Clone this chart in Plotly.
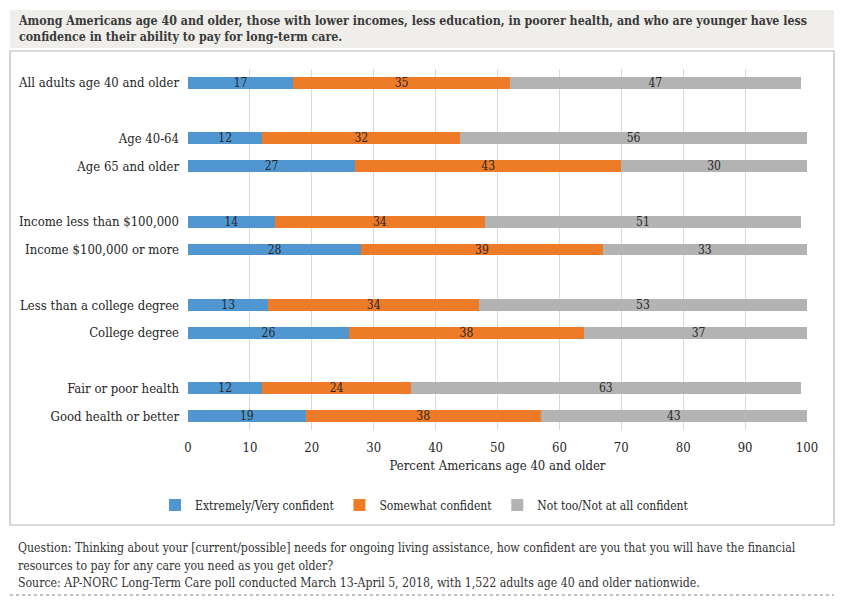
import plotly.graph_objects as go

categories = [
    "All adults age 40 and older", " ",
    "Age 40-64", "Age 65 and older", "  ",
    "Income less than $100,000", "Income $100,000 or more", "   ",
    "Less than a college degree", "College degree", "    ",
    "Fair or poor health", "Good health or better",
]
extremely = [17, None, 12, 27, None, 14, 28, None, 13, 26, None, 12, 19]
somewhat = [35, None, 32, 43, None, 34, 39, None, 34, 38, None, 24, 38]
not_conf = [47, None, 56, 30, None, 51, 33, None, 53, 37, None, 63, 43]
series_names = ["Extremely/Very confident", "Somewhat confident", "Not too/Not at all confident"]
colors = ["#5097d2", "#ee7b27", "#b3b3b3"]
x_ticks = [0, 10, 20, 30, 40, 50, 60, 70, 80, 90, 100]

title_text = ("Among Americans age 40 and older, those with lower incomes, less education, in poorer health, "
              "and who are younger have less<br>confidence in their ability to pay for long-term care.")
footer_lines = [
    "Question: Thinking about your [current/possible] needs for ongoing living assistance, how confident are you that you will have the financial",
    "resources to pay for any care you need as you get older?",
    "Source: AP-NORC Long-Term Care poll conducted March 13-April 5, 2018, with 1,522 adults age 40 and older nationwide.",
]

FONT = "DejaVu Serif Condensed, DejaVu Serif, serif"

fig = go.Figure()
for name, vals, col in zip(series_names, [extremely, somewhat, not_conf], colors):
    fig.add_trace(go.Bar(
        y=categories, x=vals, name=name, orientation="h",
        marker=dict(color=col, line=dict(width=0)),
        text=[("" if v is None else str(v)) for v in vals],
        textposition="inside", insidetextanchor="middle", textangle=0,
        textfont=dict(family=FONT, size=12, color="#262626"),
        hoverinfo="skip",
    ))

L, R, T, B = 188, 807, 69, 430
W, H = 844, 602
def px(x):
    return (x - L) / (R - L)
def py(y):
    return (B - y) / (B - T)

annotations = [
    dict(text="<b>" + title_text + "</b>",
         xref="paper", yref="paper", x=px(16), y=py(11), xanchor="left", yanchor="top",
         align="left", showarrow=False, font=dict(size=12.3, color="#3a3a3a")),
]
for line, yy in zip(footer_lines, [548, 566, 583]):
    annotations.append(dict(text=line, xref="paper", yref="paper", x=px(16), y=py(yy),
                            xanchor="left", yanchor="middle", align="left", showarrow=False,
                            font=dict(size=12.2, color="#333333")))

fig.update_layout(
    width=W, height=H, barmode="stack", bargap=0.57,
    margin=dict(l=L, r=W - R, t=T, b=H - B),
    paper_bgcolor="white", plot_bgcolor="white",
    font=dict(family=FONT, size=12, color="#262626"),
    xaxis=dict(range=[0, 100], tickvals=x_ticks, showgrid=True, gridcolor="#d9d9d9",
               gridwidth=1, zeroline=False, showline=False, ticks="",
               tickfont=dict(size=13, color="#262626"), ticklabelstandoff=8,
               title=dict(text="Percent Americans age 40 and older", font=dict(size=13), standoff=6)),
    yaxis=dict(autorange="reversed", showgrid=False, zeroline=False, showline=False,
               ticks="", tickfont=dict(size=13, color="#262626"), ticklabelstandoff=8),
    uniformtext=dict(minsize=8, mode="show"),
    showlegend=True,
    legend=dict(orientation="h", xref="container", yref="container", x=0.503, xanchor="center",
                y=(H - 505) / H, yanchor="middle", font=dict(size=12), itemwidth=30,
                traceorder="normal"),
    shapes=[
        dict(type="rect", xref="paper", yref="paper", x0=px(10), x1=px(834), y0=py(48), y1=py(10),
             fillcolor="#efeeea", line=dict(width=0), layer="below"),
        dict(type="rect", xref="paper", yref="paper", x0=px(10), x1=px(834), y0=py(525), y1=py(51),
             fillcolor="rgba(0,0,0,0)", line=dict(color="#bdb6b0", width=1.2), layer="below"),
        dict(type="line", xref="paper", yref="paper", x0=px(10), x1=px(834), y0=py(595), y1=py(595),
             line=dict(color="#b0aaa4", width=1.5, dash="dot")),
    ],
    annotations=annotations,
)

fig.write_html("out.html", config={"displayModeBar": False},
               post_script="document.body.style.margin='0';")
